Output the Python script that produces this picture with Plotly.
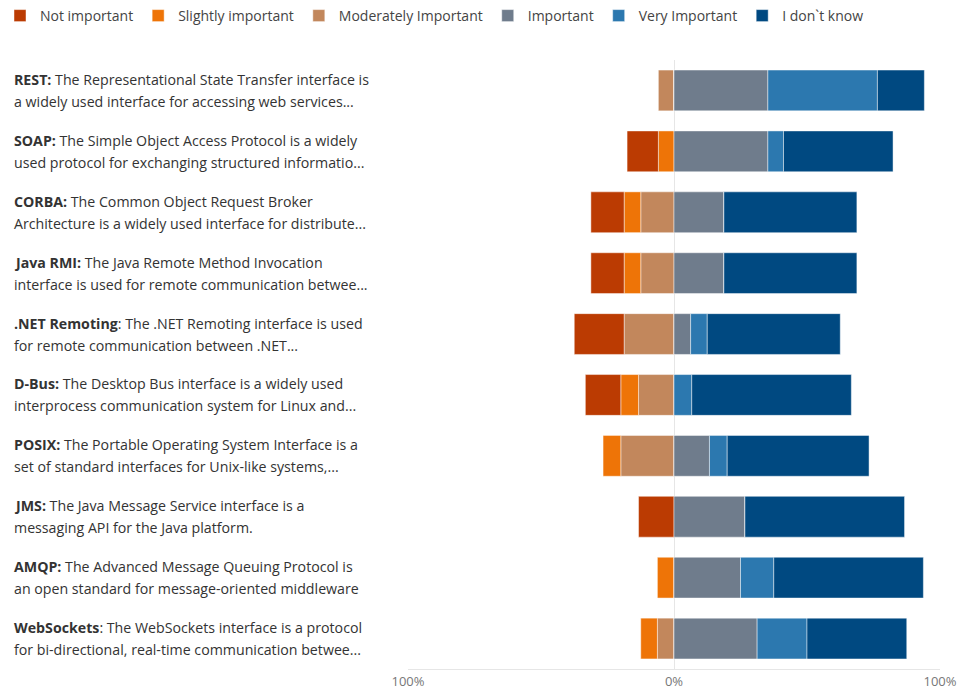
import plotly.graph_objects as go

# Survey: importance of communication interfaces (share of respondents, %)
names = ["REST", "SOAP", "CORBA", "Java RMI", ".NET Remoting", "D-Bus",
         "POSIX", "JMS", "AMQP", "WebSockets"]
line1 = [
    "<b>REST:</b> The Representational State Transfer interface is",
    "<b>SOAP:</b> The Simple Object Access Protocol is a widely",
    "<b>CORBA:</b> The Common Object Request Broker",
    "<b>Java RMI:</b> The Java Remote Method Invocation",
    "<b>.NET Remoting</b>: The .NET Remoting interface is used",
    "<b>D-Bus:</b> The Desktop Bus interface is a widely used",
    "<b>POSIX:</b> The Portable Operating System Interface is a",
    "<b>JMS:</b> The Java Message Service interface is a",
    "<b>AMQP:</b> The Advanced Message Queuing Protocol is",
    "<b>WebSockets</b>: The WebSockets interface is a protocol",
]
line2 = [
    "a widely used interface for accessing web services...",
    "used protocol for exchanging structured informatio...",
    "Architecture is a widely used interface for distribute...",
    "interface is used for remote communication betwee...",
    "for remote communication between .NET...",
    "interprocess communication system for Linux and...",
    "set of standard interfaces for Unix-like systems,...",
    "messaging API for the Java platform.",
    "an open standard for message-oriented middleware",
    "for bi-directional, real-time communication betwee...",
]

not_important = [0, 11.76, 12.5, 12.5, 18.75, 13.33, 0, 13.33, 0, 0]
slightly_important = [0, 5.88, 6.25, 6.25, 0, 6.67, 6.67, 0, 6.25, 6.25]
moderately_important = [5.88, 0, 12.5, 12.5, 18.75, 13.33, 20.0, 0, 0, 6.25]
important = [35.29, 35.29, 18.75, 18.75, 6.25, 0, 13.33, 26.67, 25.0, 31.25]
very_important = [41.18, 5.88, 0, 0, 6.25, 6.67, 6.67, 0, 12.5, 18.75]
dont_know = [17.65, 41.18, 50.0, 50.0, 50.0, 60.0, 53.33, 60.0, 56.25, 37.5]

tick_vals = [-100, 0, 100]
tick_text = ["100%", "0%", "100%"]

colors = {
    "Not important": "#BB3B02",
    "Slightly important": "#EE7407",
    "Moderately Important": "#C2875C",
    "Important": "#6F7C8C",
    "Very Important": "#2C78AF",
    "I don`t know": "#004981",
}

FONT = "Open Sans"

fig = go.Figure()

# negative side is stacked outward from zero: moderate, slight, not important
negative = [
    ("Moderately Important", moderately_important, 3),
    ("Slightly important", slightly_important, 2),
    ("Not important", not_important, 1),
]
positive = [
    ("Important", important, 4),
    ("Very Important", very_important, 5),
    ("I don`t know", dont_know, 6),
]

for label, vals, rank in negative:
    fig.add_trace(go.Bar(
        y=names, x=[-v for v in vals], name=label, orientation="h",
        legendrank=rank,
        marker=dict(color=colors[label],
                    line=dict(color="rgba(255,255,255,0.45)", width=1)),
    ))
for label, vals, rank in positive:
    fig.add_trace(go.Bar(
        y=names, x=vals, name=label, orientation="h",
        legendrank=rank,
        marker=dict(color=colors[label],
                    line=dict(color="rgba(255,255,255,0.45)", width=1)),
    ))

# two-line, left-aligned category descriptions
PLOT_L, PLOT_R = 408, 940
TOP, BOTTOM = 60, 23
label_x = (12 - PLOT_L) / (PLOT_R - PLOT_L)
annotations = []
for n, a, b in zip(names, line1, line2):
    annotations.append(dict(
        x=label_x, xref="paper", y=n, yref="y", text=a, showarrow=False,
        xanchor="left", yanchor="middle", align="left", yshift=11,
        font=dict(family=FONT, size=14.2, color="#333333")))
    annotations.append(dict(
        x=label_x, xref="paper", y=n, yref="y", text=b, showarrow=False,
        xanchor="left", yanchor="middle", align="left", yshift=-11,
        font=dict(family=FONT, size=14.2, color="#333333")))

plot_h = 692 - TOP - BOTTOM
fig.update_layout(
    width=961, height=692,
    barmode="relative",
    bargap=0.33,
    plot_bgcolor="white",
    paper_bgcolor="white",
    margin=dict(l=PLOT_L, r=961 - PLOT_R, t=TOP, b=BOTTOM, autoexpand=False),
    font=dict(family=FONT, size=14, color="#444444"),
    legend=dict(
        orientation="h", x=(0 - PLOT_L) / (PLOT_R - PLOT_L), xanchor="left",
        y=1 + TOP / plot_h, yanchor="top", traceorder="normal",
        font=dict(family=FONT, size=14, color="#444444"),
        itemwidth=30,
    ),
    xaxis=dict(
        range=[-100, 100], tickvals=tick_vals, ticktext=tick_text,
        showgrid=True, gridcolor="#E6E6E6", gridwidth=1,
        zeroline=True, zerolinecolor="#E6E6E6", zerolinewidth=1,
        showline=True, linecolor="#E6E6E6", linewidth=1,
        tickfont=dict(family=FONT, size=13, color="#777777"),
        ticks="", fixedrange=True, automargin=False,
    ),
    yaxis=dict(
        categoryorder="array", categoryarray=names, autorange="reversed",
        showticklabels=False, showgrid=False, zeroline=False, showline=False,
        ticks="", automargin=False,
    ),
    annotations=annotations,
    showlegend=True,
)

fig.write_html("out.html")
